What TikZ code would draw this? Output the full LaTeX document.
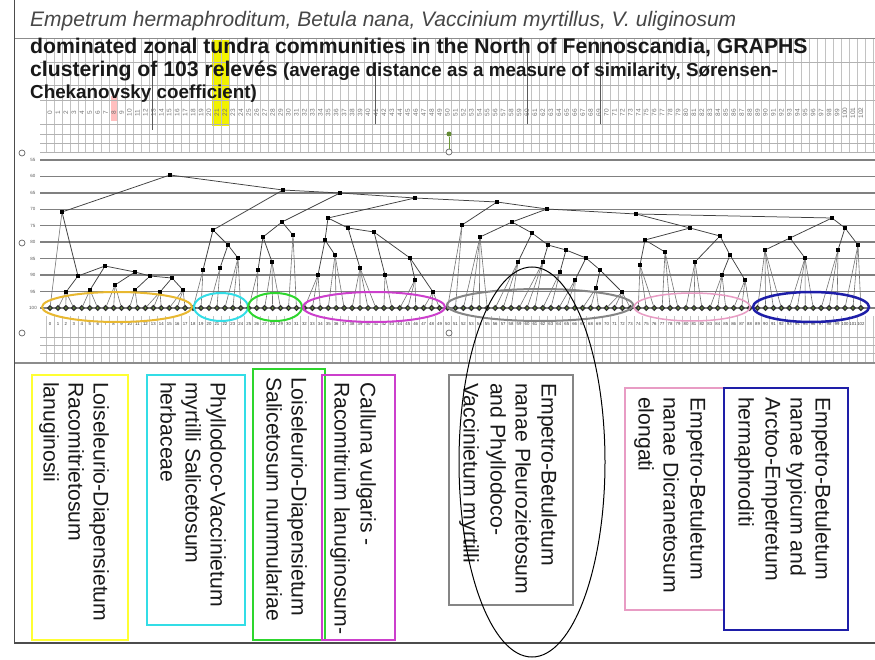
\documentclass[tikz,border=0pt]{standalone}
\usepackage{fontspec}
\setmainfont{Liberation Sans}
\usetikzlibrary{shapes.geometric}
\definecolor{cyel}{HTML}{FFFF33}
\definecolor{cyelell}{HTML}{E8B830}
\definecolor{ccyan}{HTML}{33DDE6}
\definecolor{cgreen}{HTML}{2ED62E}
\definecolor{cmag}{HTML}{CC3FCC}
\definecolor{cgray}{HTML}{858585}
\definecolor{cpink}{HTML}{E89CC4}
\definecolor{cblue}{HTML}{1E1EA8}
\definecolor{hilite}{HTML}{F2F200}
\definecolor{leafgreen}{HTML}{6E9A3A}
\begin{document}
\begin{tikzpicture}[x=1pt,y=-1pt,
  frame/.style={draw=black!70,line width=1.5pt},
  gridv/.style={draw=black!24,line width=0.55pt},
  gridh/.style={draw=black!30,line width=0.6pt},
  level/.style={draw=black!50,line width=1.4pt},
  edge/.style={draw=black!75,line width=0.75pt},
  inode/.style={fill=black,rectangle,inner sep=0pt,minimum size=4pt},
  leaf/.style={fill=black!80,diamond,inner sep=0pt,minimum size=6.5pt},
  tiny/.style={font=\fontsize{4.5}{4.5}\selectfont,text=black!65,inner sep=0pt},
  idtxt/.style={font=\fontsize{6.5}{6.5}\selectfont,text=black!55,inner sep=0pt,rotate=90},
  ttl/.style={anchor=base west,inner sep=0pt,text=black!90},
  boxtxt/.style={font=\fontsize{21.2}{21.2}\selectfont,rotate=-90,anchor=base west,inner sep=0pt,text=black!90},
  grp/.style={line width=2pt},
  ringmark/.style={draw=black!60,line width=0.7pt,fill=white,circle,inner sep=0pt,minimum size=6pt}
]
\useasboundingbox (0,0) rectangle (875,660);
\fill[white] (0,0) rectangle (875,660);

% yellow highlight in the header
\fill[hilite] (212,40) rectangle (230,126);
\fill[red!25] (111,96) rectangle (118,121);

% header grid
\foreach \i in {0,...,104} {
  \draw[gridv] ({46+7.95*\i},38) -- ({46+7.95*\i},153);
  \draw[gridv] ({46+7.95*\i},316) -- ({46+7.95*\i},362);
}
\foreach \y in {62,85,100,124,134,143,152} \draw[gridh] (40,\y) -- (875,\y);
\draw[draw=black!45,line width=0.9pt] (14,38) -- (875,38);
\foreach \y in {337,345,353} \draw[gridh] (40,\y) -- (875,\y);
\draw[draw=black!45,line width=1.3pt] (14,363) -- (875,363);

% dark vertical ticks in the header
\draw[draw=black!65,line width=0.9pt] (152,42) -- (152,130);
\draw[draw=black!65,line width=0.9pt] (375,62) -- (375,124);
\draw[draw=black!65,line width=0.9pt] (527,42) -- (527,124);
\draw[draw=black!65,line width=0.9pt] (600,42) -- (600,124);

% leaf id row
\foreach \i in {0,...,102} {
  \node[idtxt] (id\i) at ({50+7.95*\i},113) {\i};
}

% level lines and axis labels
\foreach \k [evaluate=\k as \v using int(55+5*\k)] in {0,...,9} {
  \draw[level] (40,{160+16.44*\k}) -- (875,{160+16.44*\k});
  \node[tiny] (ax\k) at (33,{160+16.44*\k}) {\v};
}

% small circles and green marker
\node[ringmark] (c1) at (22,153) {};
\node[ringmark] (c2) at (22,243) {};
\node[ringmark] (c3) at (22,333) {};
\node[ringmark] (c4) at (449,152) {};
\node[ringmark] (c5) at (449,333) {};
\node[fill=leafgreen!90!black,circle,inner sep=0pt,minimum size=5pt] (gm) at (449,134) {};
\draw[draw=leafgreen,line width=0.8pt] (gm) -- (c4);

% leaves
\foreach \i in {0,...,102} {
  \node[leaf] (l\i) at ({50+7.95*\i},308) {};
  \fill[leafgreen] (l\i) circle (1);
  \node[tiny,text=black!80,font=\fontsize{4.3}{4.3}\selectfont] (n\i) at ({50+7.95*\i},324) {\i};
}

% internal nodes
\foreach \n/\x/\y in {A/170/175,B/62/212,C/283/190,E/340/193,F/415/198,H/497/202,
  D/213/230,Da/203/270,Db/228/245,Dc/220/268,Dd/238/258,
  G/282/222,Ga/263/237,Gb/293/235,Gc/258/270,Gd/272/262,
  Y1/78/276,Y2/66/292,Y3/105/266,Y4/90/290,Y5/135/272,Y6/115/285,Y7/150/276,Y8/135/290,Y9/172/278,Y10/160/292,Y11/183/290,
  M/328/218,Ma/325/240,Mb/348/228,Mc/318/275,Md/335/255,Me/374/232,Mg/360/268,Mi/385/275,Mj/410/258,Mk/415/280,Ml/433/292,
  Q1/462/225,K/547/209,Q/512/222,R/636/214,Q3/480/237,Q4/532/233,Q5/518/262,Q6/548/245,Q7/543/262,Q8/566/250,Q9/560/272,Q10/586/258,Q11/575/280,Q12/600/270,Q13/596/288,Q14/622/292,
  P/690/228,Pa/645/240,Pb/720/236,Pc/640/265,Pd/665/252,Pe/695/262,Pf/730/255,Pg/722/275,Ph/745/280,
  Bl/832/218,Ba/790/238,Bb/845/228,Bc/765/250,Bd/805/258,Be/838/250,Bf/858/245} {
  \node[inode] (\n) at (\x,\y) {};
}

% internal edges
\foreach \p/\c in {A/B,A/C,C/D,C/E,E/G,E/F,F/M,F/H,B/Y1,Y1/Y2,Y1/Y3,Y3/Y4,Y3/Y5,Y5/Y6,Y5/Y7,Y7/Y8,Y7/Y9,Y9/Y10,Y9/Y11,
  D/Da,D/Db,Db/Dc,Db/Dd,G/Ga,G/Gb,Ga/Gc,Ga/Gd,
  M/Ma,M/Mb,Ma/Mc,Ma/Md,Mb/Mg,Mb/Me,Me/Mi,Me/Mj,Mj/Mk,Mj/Ml,
  H/Q1,H/K,K/Q,K/R,Q/Q3,Q/Q4,Q4/Q5,Q4/Q6,Q6/Q7,Q6/Q8,Q8/Q9,Q8/Q10,Q10/Q11,Q10/Q12,Q12/Q13,Q12/Q14,
  R/P,R/Bl,P/Pa,P/Pb,Pa/Pc,Pa/Pd,Pb/Pe,Pb/Pf,Pf/Pg,Pf/Ph,Bl/Ba,Bl/Bb,Ba/Bc,Ba/Bd,Bb/Be,Bb/Bf} {
  \draw[edge] (\p) -- (\c);
}
% edges to leaves
\foreach \p/\a/\b in {B/0/0,Y2/1/3,Y4/4/6,Y6/7/9,Y8/10/11,Y10/12/14,Y11/15/17,
  Da/18/19,Dc/20/21,Dd/22/24,Gc/25/26,Gd/27/29,Gb/30/31,
  Mc/32/34,Md/35/37,Mg/38/41,Mi/42/43,Mk/44/46,Ml/47/49,
  Q1/50/51,Q3/52/55,Q5/56/58,Q7/59/61,Q9/62/63,Q11/64/66,Q13/67/69,Q14/70/73,
  Pc/74/76,Pd/77/79,Pe/80/82,Pg/83/85,Ph/86/88,
  Bc/89/92,Bd/93/96,Be/97/99,Bf/100/102} {
  \foreach \k in {\a,...,\b} { \draw[edge,draw=black!55,line width=0.6pt] (\p) -- (l\k); }
}

% group ellipses
\draw[grp,draw=cyelell] (117,307) ellipse (75 and 15);
\draw[grp,draw=ccyan] (221,307) ellipse (27 and 14);
\draw[grp,draw=cgreen] (275,307) ellipse (27 and 14);
\draw[grp,draw=cmag] (374,307) ellipse (71 and 15);
\draw[grp,draw=cgray] (540,305) ellipse (93 and 16);
\draw[grp,draw=cpink,line width=1.5pt] (692,307) ellipse (58 and 14);
\draw[grp,draw=cblue,line width=2.5pt] (811,307) ellipse (58 and 15);

% title
\node[ttl,font=\fontsize{21}{21}\selectfont\itshape,text=black!72] (t1) at (30,27)
  {Empetrum hermaphroditum, Betula nana, Vaccinium myrtillus, V. uliginosum};
\node[ttl,font=\fontsize{21.2}{21.2}\selectfont\bfseries] (t2) at (30,54)
  {dominated zonal tundra communities in the North of Fennoscandia, GRAPHS};
\node[ttl,font=\fontsize{21.2}{21.2}\selectfont\bfseries] (t3a) at (30,77)
  {clustering of 103 relevés};
\node[ttl,font=\fontsize{18.8}{18.8}\selectfont\bfseries] (t3b) at ([xshift=5pt]t3a.base east)
  {(average distance as a measure of similarity, Sørensen-};
\node[ttl,font=\fontsize{18.8}{18.8}\selectfont\bfseries] (t4) at (30,99)
  {Chekanovsky coefficient)};

% frame
\draw[frame] (14.5,0) -- (14.5,643) -- (875,643);

% community boxes
\draw[line width=2.2pt,draw=cyel] (32,375) rectangle (128,640);
\draw[line width=2.2pt,draw=ccyan] (147,375) rectangle (245,625);
\draw[line width=2pt,draw=cgreen] (253,369) rectangle (325,640);
\draw[line width=2pt,draw=cmag] (322,375) rectangle (395,640);
\draw[line width=2pt,draw=cgray] (449,375) rectangle (573,605);
\draw[line width=1.5pt,draw=cpink] (625,388) rectangle (724,610);
\draw[line width=2.5pt,draw=cblue] (724,388) rectangle (848,630);

\node[boxtxt] (y1) at (93.5,382) {Loiseleurio-Diapensietum};
\node[boxtxt] (y2) at (68.5,382) {Racomitrietosum};
\node[boxtxt] (y3) at (43.5,382) {lanuginosii};
\node[boxtxt] (cy1) at (210.5,382) {Phyllodoco-Vaccinietum};
\node[boxtxt] (cy2) at (185.5,382) {myrtilli Salicetosum};
\node[boxtxt] (cy3) at (160.5,382) {herbaceae};
\node[boxtxt] (g1) at (291.5,377) {Loiseleurio-Diapensietum};
\node[boxtxt] (g2) at (266.5,377) {Salicetosum nummulariae};
\node[boxtxt] (m1) at (360.5,382) {Calluna vulgaris -};
\node[boxtxt] (m2) at (334.5,382) {Racomitrium lanuginosum-};
\node[boxtxt] (gr1) at (541.5,383) {Empetro-Betuletum};
\node[boxtxt] (gr2) at (515.5,383) {nanae Pleurozietosum};
\node[boxtxt] (gr3) at (490.5,383) {and Phyllodoco-};
\node[boxtxt] (gr4) at (463.5,383) {Vaccinietum myrtilli};
\node[boxtxt] (p1) at (690.5,397) {Empetro-Betuletum};
\node[boxtxt] (p2) at (663.5,397) {nanae Dicranetosum};
\node[boxtxt] (p3) at (638.5,397) {elongati};
\node[boxtxt] (b1) at (815.5,397) {Empetro-Betuletum};
\node[boxtxt] (b2) at (790.5,397) {nanae typicum and};
\node[boxtxt] (b3) at (765.5,397) {Arctoo-Empetretum};
\node[boxtxt] (b4) at (738.5,397) {hermaphroditi};

% large black ellipse
\draw[draw=black,line width=1pt] (532,462) ellipse (73 and 195);
\end{tikzpicture}
\end{document}
